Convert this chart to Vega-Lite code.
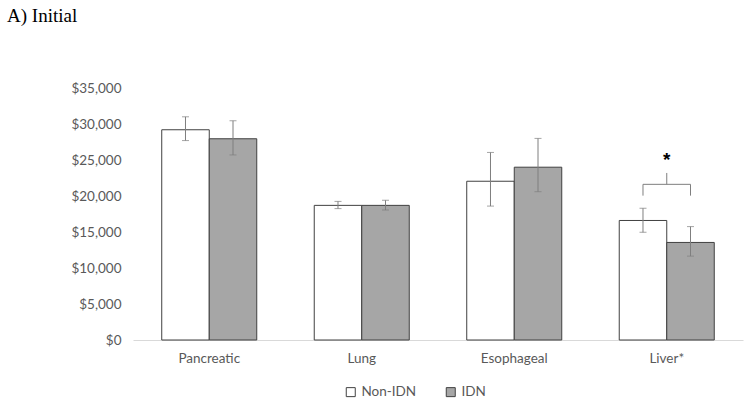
{
  "$schema": "https://vega.github.io/schema/vega-lite/v6.json",
  "width": 610,
  "height": 252,
  "autosize": {"type": "none"},
  "padding": {"left": 133, "top": 88, "right": 8, "bottom": 65},
  "title": {"text": "A) Initial", "anchor": "start", "frame": "group", "font": "Liberation Serif", "fontSize": 19, "fontWeight": "normal", "color": "#000000", "dx": -126, "dy": -51},
  "config": {
    "view": {"stroke": null},
    "font": "Lato",
    "axisY": {"title": null, "format": "$,.0f", "domain": false, "ticks": false, "grid": false, "labelOverlap": false, "labelFlush": false, "labelColor": "#595959", "labelFontSize": 13.5, "labelPadding": 12, "tickCount": 8}
  },
  "data": {"values": [
    {"cat": "Pancreatic", "group": "Non-IDN", "value": 29200, "lo": 27700, "hi": 31000},
    {"cat": "Pancreatic", "group": "IDN", "value": 27950, "lo": 25700, "hi": 30450},
    {"cat": "Lung", "group": "Non-IDN", "value": 18700, "lo": 18250, "hi": 19250},
    {"cat": "Lung", "group": "IDN", "value": 18700, "lo": 18050, "hi": 19400},
    {"cat": "Esophageal", "group": "Non-IDN", "value": 22050, "lo": 18600, "hi": 26050},
    {"cat": "Esophageal", "group": "IDN", "value": 24000, "lo": 20600, "hi": 28000},
    {"cat": "Liver*", "group": "Non-IDN", "value": 16600, "lo": 14950, "hi": 18300},
    {"cat": "Liver*", "group": "IDN", "value": 13550, "lo": 11650, "hi": 15750}
  ]},
  "encoding": {
    "x": {"field": "cat", "type": "nominal", "sort": null,
      "scale": {"domain": ["Pancreatic", "Lung", "Esophageal", "Liver*"], "paddingInner": 0.377, "paddingOuter": 0.1885},
      "axis": {"title": null, "labelAngle": 0, "ticks": false, "domainColor": "#d9d9d9", "domainWidth": 1, "labelColor": "#595959", "labelFontSize": 13.5, "labelPadding": 11}}
  },
  "layer": [
    {
      "mark": {"type": "bar", "stroke": "#404040", "strokeWidth": 1},
      "encoding": {
        "xOffset": {"field": "group", "type": "nominal", "scale": {"domain": ["Non-IDN", "IDN"], "paddingInner": 0, "paddingOuter": 0}},
        "y": {"field": "value", "type": "quantitative", "scale": {"domain": [0, 35000]},
          "axis": {"values": [0, 5000, 10000, 15000, 20000, 25000, 30000, 35000]}},
        "fill": {"field": "group", "type": "nominal", "scale": {"domain": ["Non-IDN", "IDN"], "range": ["#ffffff", "#a6a6a6"]},
          "legend": {"title": null, "orient": "none", "legendX": 211, "legendY": 297, "direction": "horizontal", "columns": 2, "columnPadding": 27, "padding": 0, "symbolType": "square", "symbolSize": 81, "symbolStrokeColor": "#404040", "symbolStrokeWidth": 1, "labelColor": "#595959", "labelFontSize": 13.5, "labelOffset": 4}}
      }
    },
    {
      "mark": {"type": "rule", "color": "#7f7f7f", "strokeWidth": 1},
      "encoding": {
        "xOffset": {"field": "group", "type": "nominal"},
        "y": {"field": "lo", "type": "quantitative", "axis": {"values": [0, 5000, 10000, 15000, 20000, 25000, 30000, 35000]}},
        "y2": {"field": "hi"}
      }
    },
    {
      "mark": {"type": "tick", "color": "#7f7f7f", "size": 7, "thickness": 1},
      "encoding": {
        "xOffset": {"field": "group", "type": "nominal"},
        "y": {"field": "lo", "type": "quantitative", "axis": {"values": [0, 5000, 10000, 15000, 20000, 25000, 30000, 35000]}}
      }
    },
    {
      "mark": {"type": "tick", "color": "#7f7f7f", "size": 7, "thickness": 1},
      "encoding": {
        "xOffset": {"field": "group", "type": "nominal"},
        "y": {"field": "hi", "type": "quantitative", "axis": {"values": [0, 5000, 10000, 15000, 20000, 25000, 30000, 35000]}}
      }
    },
    {
      "data": {"values": [
        {"cat": "Liver*", "group": "Non-IDN", "y": 20050, "ord": 1},
        {"cat": "Liver*", "group": "Non-IDN", "y": 21620, "ord": 2},
        {"cat": "Liver*", "group": "IDN", "y": 21620, "ord": 3},
        {"cat": "Liver*", "group": "IDN", "y": 20050, "ord": 4}
      ]},
      "mark": {"type": "line", "color": "#7f7f7f", "strokeWidth": 1},
      "encoding": {
        "xOffset": {"field": "group", "type": "nominal"},
        "y": {"field": "y", "type": "quantitative", "axis": {"values": [0, 5000, 10000, 15000, 20000, 25000, 30000, 35000]}},
        "order": {"field": "ord", "type": "quantitative"}
      }
    },
    {
      "data": {"values": [{"cat": "Liver*", "y": 21620, "y2": 23200}]},
      "mark": {"type": "rule", "color": "#7f7f7f", "strokeWidth": 1},
      "encoding": {
        "y": {"field": "y", "type": "quantitative", "axis": {"values": [0, 5000, 10000, 15000, 20000, 25000, 30000, 35000]}},
        "y2": {"field": "y2"}
      }
    },
    {
      "data": {"values": [{"cat": "Liver*", "y": 25000, "label": "*"}]},
      "mark": {"type": "text", "fontSize": 19, "fontWeight": "bold", "color": "#000000", "font": "Liberation Sans", "baseline": "middle"},
      "encoding": {
        "y": {"field": "y", "type": "quantitative", "axis": {"values": [0, 5000, 10000, 15000, 20000, 25000, 30000, 35000]}},
        "text": {"field": "label"}
      }
    }
  ]
}
